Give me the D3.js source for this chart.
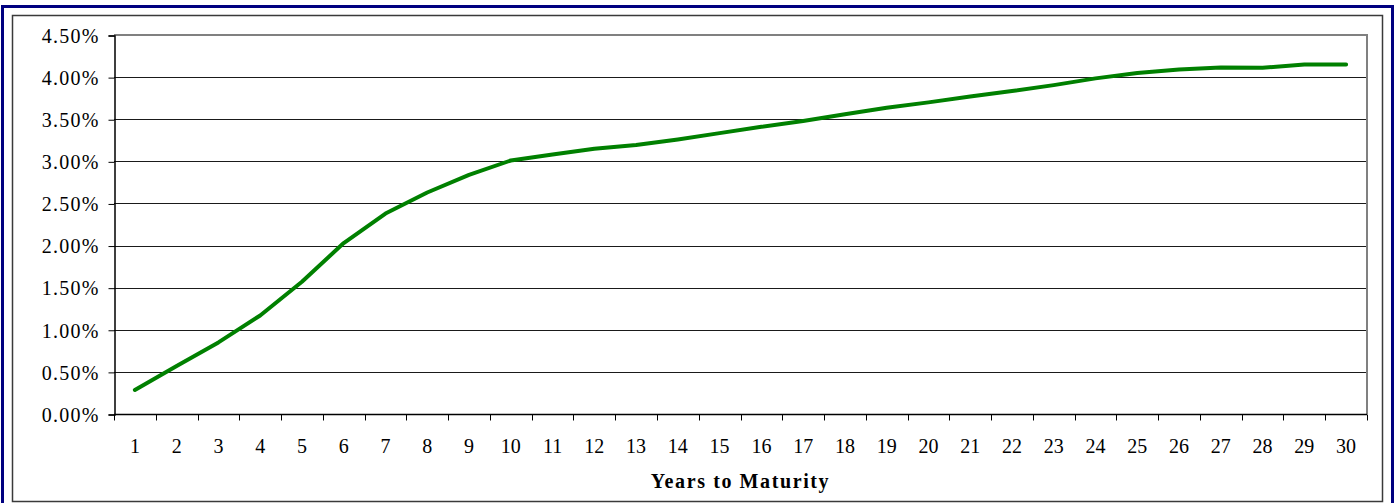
<!DOCTYPE html>
<html>
<head>
<meta charset="utf-8">
<script src="https://cdn.jsdelivr.net/npm/d3@7"></script>
<style>
  html, body { margin: 0; padding: 0; background: #fff; }
  svg { display: block; }
  svg text { font-family: "Liberation Serif", "Times New Roman", serif !important; fill: #000; }
</style>
</head>
<body>
<svg id="chart" width="1395" height="503"></svg>
<script>
// Yield curve: years to maturity vs. yield (%)
const years = d3.range(1, 31);
const yields = [
  0.285, 0.57, 0.85, 1.17, 1.57, 2.03, 2.38, 2.63, 2.84, 3.01,
  3.08, 3.15, 3.195, 3.26, 3.335, 3.41, 3.48, 3.56, 3.635, 3.70,
  3.77, 3.835, 3.905, 3.985, 4.05, 4.09, 4.115, 4.11, 4.15, 4.15
];
const yTicks = [0, 0.5, 1, 1.5, 2, 2.5, 3, 3.5, 4, 4.5];
const xTitle = "Years to Maturity";

const serif = "'Liberation Serif', 'Times New Roman', serif";
const svg = d3.select("#chart");
const plot = { left: 114, top: 35, right: 1367, bottom: 414 };

// Outer navy frame and inner chart-area frame
svg.append("rect")
  .attr("x", 2.5).attr("y", 6.5).attr("width", 1390).attr("height", 510)
  .attr("fill", "none").attr("stroke", "#000080").attr("stroke-width", 3);
svg.append("rect")
  .attr("x", 12.5).attr("y", 15.5).attr("width", 1370).attr("height", 486)
  .attr("fill", "none").attr("stroke", "#3a3a3a").attr("stroke-width", 1.5);

const x = d3.scaleBand().domain(years).range([plot.left, plot.right]);
const y = d3.scaleLinear().domain([0, 4.5]).range([plot.bottom, plot.top]);

// Horizontal gridlines
svg.append("g")
  .selectAll("line")
  .data(yTicks.filter(d => d > 0 && d < 4.5))
  .join("line")
  .attr("x1", plot.left).attr("x2", plot.right)
  .attr("y1", d => Math.round(y(d)) + 0.5).attr("y2", d => Math.round(y(d)) + 0.5)
  .attr("stroke", "#1a1a1a").attr("stroke-width", 1);

// Plot-area border (top and right in gray)
svg.append("path")
  .attr("d", `M${plot.left},${plot.top} H${plot.right} V${plot.bottom}`)
  .attr("fill", "none").attr("stroke", "#808080").attr("stroke-width", 2);

// Y axis
const yAxis = d3.axisLeft(y)
  .tickValues(yTicks)
  .tickSize(6)
  .tickPadding(10)
  .tickFormat(d => d3.format(".2f")(d) + "%");
const gy = svg.append("g")
  .attr("transform", `translate(${plot.left + 0.5},0.5)`)
  .call(yAxis)
  .attr("font-family", serif)
  .attr("font-size", 20);
gy.select(".domain").attr("stroke", "#000").attr("stroke-width", 1.5);
gy.selectAll(".tick line").attr("stroke", "#000");
gy.selectAll(".tick text")
  .attr("letter-spacing", "1.2px")
  .attr("dx", "1")
  .attr("dy", "0.34em");

// X axis: ticks at category boundaries, labels centered in each band
const gx = svg.append("g")
  .attr("transform", `translate(0,${plot.bottom + 0.5})`)
  .attr("font-family", serif)
  .attr("font-size", 20);
gx.append("line")
  .attr("x1", plot.left).attr("x2", plot.right)
  .attr("stroke", "#000").attr("stroke-width", 1.5);
const bounds = years.map(d => x(d)).concat([plot.right]);
gx.selectAll("line.tick")
  .data(bounds)
  .join("line")
  .attr("class", "tick")
  .attr("x1", d => Math.round(d) + 0.5).attr("x2", d => Math.round(d) + 0.5)
  .attr("y1", 0).attr("y2", 6)
  .attr("stroke", "#000");
gx.selectAll("text")
  .data(years)
  .join("text")
  .attr("x", d => x(d) + x.bandwidth() / 2)
  .attr("y", 38)
  .attr("text-anchor", "middle")
  .text(d => d);

// Axis title
svg.append("text")
  .attr("x", (plot.left + plot.right) / 2)
  .attr("y", 488)
  .attr("text-anchor", "middle")
  .attr("font-family", serif)
  .attr("font-size", 20)
  .attr("font-weight", "bold")
  .attr("letter-spacing", "1.6px")
  .text(xTitle);

// Yield curve line
const line = d3.line()
  .x((d, i) => x(years[i]) + x.bandwidth() / 2)
  .y(d => y(d));
svg.append("path")
  .datum(yields)
  .attr("d", line)
  .attr("fill", "none")
  .attr("stroke", "#008000")
  .attr("stroke-width", 4)
  .attr("stroke-linejoin", "round")
  .attr("stroke-linecap", "round");
</script>
</body>
</html>
